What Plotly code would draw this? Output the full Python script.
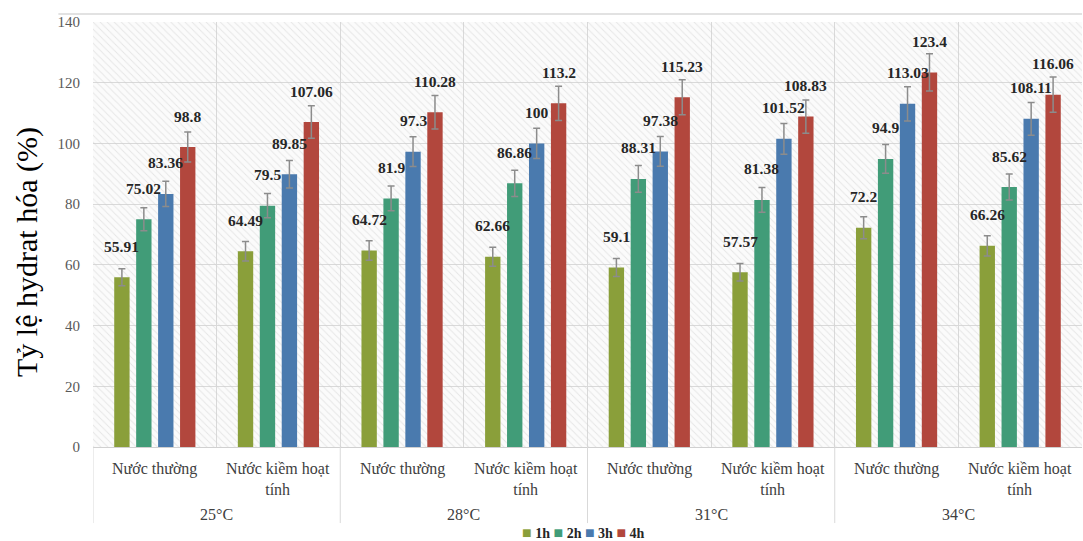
import plotly.graph_objects as go

temps = ["25°C", "28°C", "31°C", "34°C"]
water_types = ["Nước thường", "Nước kiềm hoạt<br>tính"]
series_names = ["1h", "2h", "3h", "4h"]
v_1h = [55.91, 64.49, 64.72, 62.66, 59.1, 57.57, 72.2, 66.26]
v_2h = [75.02, 79.5, 81.9, 86.86, 88.31, 81.38, 94.9, 85.62]
v_3h = [83.36, 89.85, 97.3, 100, 97.38, 101.52, 113.03, 108.11]
v_4h = [98.8, 107.06, 110.28, 113.2, 115.23, 108.83, 123.4, 116.06]
err_pct = 5
colors = ["#8a9f3a", "#419c78", "#4a7aae", "#b2473d"]

series = [v_1h, v_2h, v_3h, v_4h]
n = len(v_1h)
xs = list(range(n))
bargap = 0.29
serif = "Liberation Serif, Times New Roman, serif"

fig = go.Figure()
# hatched plot background
fig.add_trace(go.Bar(x=[(n - 1) / 2], y=[140], width=[n], xaxis="x", yaxis="y",
                     marker=dict(color="rgba(0,0,0,0)", line=dict(width=0),
                                 pattern=dict(shape="\\", size=5, solidity=0.18,
                                              fgcolor="#d0d0d0", bgcolor="rgba(0,0,0,0)")),
                     showlegend=False, hoverinfo="skip"))

for name, vals, c in zip(series_names, series, colors):
    fig.add_trace(go.Bar(x=xs, y=vals, name=name, xaxis="x2", yaxis="y2",
                         marker=dict(color=c, line=dict(width=0)),
                         error_y=dict(type="percent", value=err_pct, color="#8c8c8c",
                                      thickness=1.5, width=3.5),
                         showlegend=False))

annotations = []
slot = (1 - bargap) / 4
for k, vals in enumerate(series):
    for i, v in enumerate(vals):
        annotations.append(dict(x=i + (k - 1.5) * slot, y=v, xref="x", yref="y",
                                text=f"<b>{v:g}</b>", showarrow=False, yshift=31,
                                font=dict(family=serif, size=15.5, color="#262626")))

for i in range(n):
    annotations.append(dict(x=i, y=-0.026, xref="x", yref="paper", yanchor="top",
                            text=water_types[i % 2], showarrow=False,
                            font=dict(family=serif, size=16, color="#404040")))
for g, t in enumerate(temps):
    annotations.append(dict(x=2 * g + 0.5, y=-0.158, xref="x", yref="paper", yanchor="middle",
                            text=t, showarrow=False,
                            font=dict(family=serif, size=16, color="#404040")))

legend_text = "&nbsp;".join(
    f"<span style='color:{c};font-size:16px'>■</span>&nbsp;<b>{s}</b>"
    for s, c in zip(series_names, colors))
annotations.append(dict(x=0.496, y=-0.202, xref="paper", yref="paper", yanchor="middle",
                        text=legend_text, showarrow=False,
                        font=dict(family=serif, size=14, color="#262626")))

annotations.append(dict(x=-0.0667, y=0.459, xref="paper", yref="paper", textangle=-90,
                        text="Tỷ lệ hydrat hóa (%)", showarrow=False,
                        xanchor="center", yanchor="middle",
                        font=dict(family=serif, size=30, color="black")))

shapes = []
for xd in [-0.5, 1.5, 3.5, 5.5]:
    shapes.append(dict(type="line", xref="x", yref="paper", x0=xd, x1=xd, y0=0, y1=-0.179,
                       line=dict(color="#d9d9d9", width=1)))
shapes.append(dict(type="line", xref="paper", yref="paper", x0=-0.035, x1=1, y0=1.019, y1=1.019,
                   line=dict(color="#d9d9d9", width=1.5)))

grid_vals = [i - 0.5 for i in range(n + 1)]
fig.update_layout(
    width=1083, height=541,
    margin=dict(l=93, r=1, t=22, b=94),
    paper_bgcolor="white", plot_bgcolor="#fbfbfb",
    barmode="group", bargap=bargap, bargroupgap=0.3,
    xaxis=dict(range=[-0.5, n - 0.5], tickmode="array", tickvals=grid_vals,
               showticklabels=False, showgrid=True, gridcolor="#d9d9d9", gridwidth=1,
               zeroline=False, showline=False, ticks=""),
    xaxis2=dict(range=[-0.5, n - 0.5], overlaying="x", showticklabels=False,
                showgrid=False, zeroline=False, visible=False),
    yaxis=dict(range=[0, 140], dtick=20, showgrid=True, gridcolor="#d9d9d9", gridwidth=1,
               zeroline=True, zerolinecolor="#d0d0d0", zerolinewidth=1,
               ticks="", ticklabelstandoff=12,
               tickfont=dict(family=serif, size=15, color="#595959")),
    yaxis2=dict(range=[0, 140], overlaying="y", visible=False, showgrid=False),
    annotations=annotations, shapes=shapes,
)

fig.write_html("out.html", config={"displayModeBar": False},
               post_script="document.body.style.margin='0';document.body.style.overflow='hidden';")
